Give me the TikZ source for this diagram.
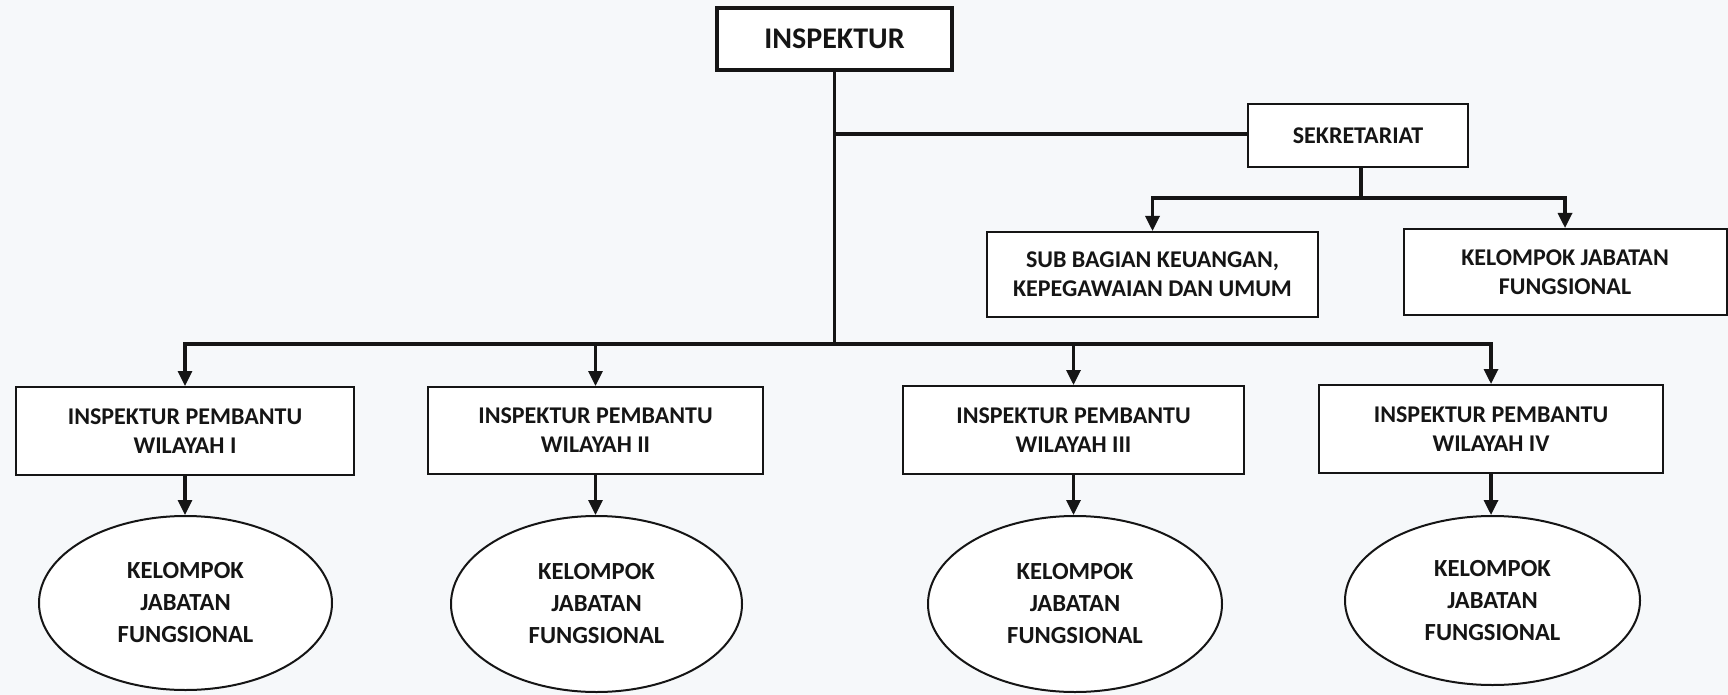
\documentclass[tikz,border=0pt]{standalone}
\usepackage{fontspec}
\setmainfont{Carlito}
\usetikzlibrary{arrows.meta,shapes.geometric}
\definecolor{paper}{HTML}{F6F8FA}
\definecolor{ink}{HTML}{151515}
\tikzset{
  box/.style={draw=ink,line width=1pt,fill=white,align=center,inner sep=0pt,
    font=\bfseries\fontsize{12}{14.5}\selectfont,text=ink},
  topbox/.style={box,line width=2.4pt,font=\bfseries\fontsize{15}{18}\selectfont},
  oval/.style={ellipse,draw=ink,line width=1pt,fill=white,align=center,inner sep=0pt,
    font=\bfseries\fontsize{12.3}{16}\selectfont,text=ink},
  link/.style={draw=ink,line width=1.6pt},
  arr/.style={link,-{Triangle[width=7pt,length=7.5pt]}}
}
\begin{document}
\begin{tikzpicture}[x=0.5pt,y=-0.5pt]
\fill[paper] (0,0) rectangle (1728,695);
\useasboundingbox (0,0) rectangle (1728,695);
% top
\node[topbox,minimum width=117.5pt,minimum height=31pt] (insp) at (834.5,39) {INSPEKTUR};
\node[box,minimum width=110pt,minimum height=31.5pt] (sek) at (1358,135.5) {SEKRETARIAT};
\node[box,minimum width=165.5pt,minimum height=42.5pt] (sub) at (1152.5,274.5) {SUB BAGIAN KEUANGAN,\\KEPEGAWAIAN DAN UMUM};
\node[box,minimum width=161.5pt,minimum height=43pt] (kjf) at (1565,272) {KELOMPOK JABATAN\\FUNGSIONAL};
% wilayah boxes
\node[box,minimum width=169pt,minimum height=44pt] (b1) at (185,431) {INSPEKTUR PEMBANTU\\WILAYAH I};
\node[box,minimum width=167.5pt,minimum height=43.5pt] (b2) at (595.5,430.5) {INSPEKTUR PEMBANTU\\WILAYAH II};
\node[box,minimum width=170.5pt,minimum height=44pt] (b3) at (1073.5,430) {INSPEKTUR PEMBANTU\\WILAYAH III};
\node[box,minimum width=172pt,minimum height=44pt] (b4) at (1491,429) {INSPEKTUR PEMBANTU\\WILAYAH IV};
% ellipses
\node[oval,minimum width=146.5pt,minimum height=87pt] (e1) at (185.5,603) {KELOMPOK\\JABATAN\\FUNGSIONAL};
\node[oval,minimum width=145.5pt,minimum height=88pt] (e2) at (596.5,604) {KELOMPOK\\JABATAN\\FUNGSIONAL};
\node[oval,minimum width=147pt,minimum height=88pt] (e3) at (1075,604) {KELOMPOK\\JABATAN\\FUNGSIONAL};
\node[oval,minimum width=147.5pt,minimum height=84.5pt] (e4) at (1492.5,600.5) {KELOMPOK\\JABATAN\\FUNGSIONAL};
% junctions
\coordinate (bus) at (834.5,344);
\coordinate (tap) at (834.5,134);
\coordinate (sbus) at (1361,198);
% connectors
\draw[link] (insp.south) -- (bus);
\draw[link] (tap) -- (tap -| sek.west);
\draw[link] (sek.south -| sbus) -- (sbus);
\draw[arr] (sbus) -| (sub.north);
\draw[arr] (sbus) -| (kjf.north);
\draw[arr] (bus) -| (b1.north);
\draw[arr] (bus) -| (b2.north);
\draw[arr] (bus) -| (b3.north);
\draw[arr] (bus) -| (b4.north);
\draw[arr] (b1.south) -- (b1.south |- e1.north);
\draw[arr] (b2.south) -- (b2.south |- e2.north);
\draw[arr] (b3.south) -- (b3.south |- e3.north);
\draw[arr] (b4.south) -- (b4.south |- e4.north);
\end{tikzpicture}
\end{document}
